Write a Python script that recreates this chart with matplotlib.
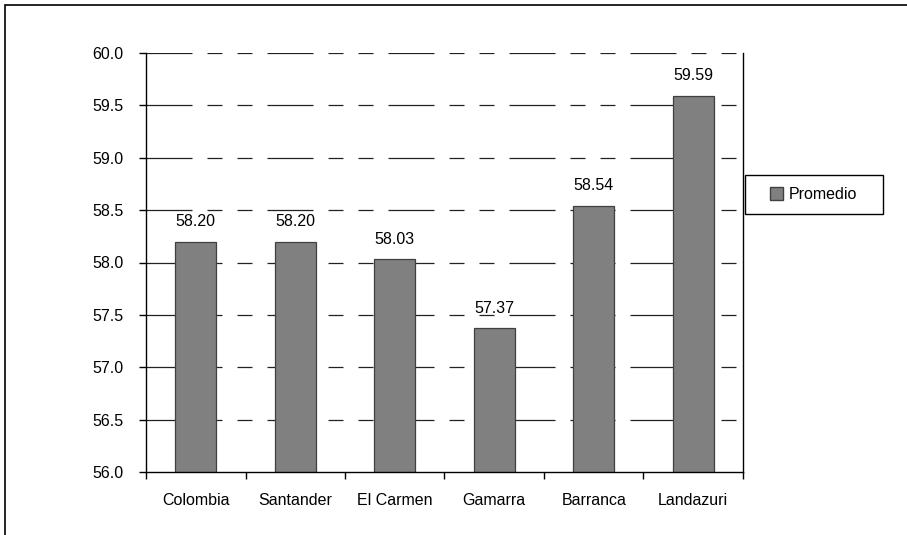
import matplotlib.pyplot as plt
from matplotlib.patches import Rectangle, Patch
import numpy as np

plt.rcParams['font.family'] = ['Liberation Sans', 'DejaVu Sans']
plt.rcParams['lines.scale_dashes'] = False

# Data
categories = ['Colombia', 'Santander', 'El Carmen', 'Gamarra', 'Barranca', 'Landazuri']
promedio = [58.20, 58.20, 58.03, 57.37, 58.54, 59.59]
y_ticks = [56.0, 56.5, 57.0, 57.5, 58.0, 58.5, 59.0, 59.5, 60.0]

W, H = 907, 535
fig = plt.figure(figsize=(W / 100, H / 100), dpi=100)
ax = fig.add_axes([146 / W, 1 - 472 / H, (743 - 146) / W, (472 - 53) / H])

# outer chart border (cut off at right and bottom)
fig.patches.append(Rectangle((5 / W, -0.1), 1.2, 1 - 5 / H + 0.1, transform=fig.transFigure,
                             fill=False, edgecolor='black', linewidth=1.2))

x = np.arange(len(categories))
ax.set_xlim(-0.5, len(categories) - 0.5)
ax.set_ylim(56.0, 60.0)

# dashed gridlines (long dash, dot, dot style) -- lengths in pixels
px = 0.72
dash = (0, (46 * px, 15 * px, 15 * px, 15 * px, 15 * px, 15 * px))
for yv in y_ticks[1:]:
    ax.axhline(yv, color='#222222', linewidth=0.9, linestyle=dash, zorder=1)

bars = ax.bar(x, promedio, width=0.41, bottom=0, color='#808080', edgecolor='#404040',
              linewidth=0.9, zorder=2)

for xi, v in zip(x, promedio):
    ax.annotate(f'{v:.2f}', (xi, v), xytext=(0, 9), textcoords='offset points',
                ha='center', va='bottom', fontsize=11.5)

ax.set_yticks(y_ticks)
ax.set_yticklabels([f'{t:.1f}' for t in y_ticks], fontsize=11.5)
ax.set_xticks(np.arange(len(categories) + 1) - 0.5, minor=False)
ax.set_xticklabels([''] * (len(categories) + 1))
ax.set_xticks(x, minor=True)
ax.set_xticklabels(categories, minor=True, fontsize=11.5)
ax.tick_params(axis='x', which='major', direction='out', length=5, width=1)
ax.tick_params(axis='x', which='minor', length=0, pad=15)
ax.tick_params(axis='y', direction='out', length=5, width=1, pad=11)

ax.spines['top'].set_visible(False)
for s in ['left', 'bottom', 'right']:
    ax.spines[s].set_linewidth(1)
    ax.spines[s].set_color('black')

# legend: content placed by matplotlib, frame drawn to the reference size
leg = fig.legend(handles=[Patch(facecolor='#808080', edgecolor='#404040', label='Promedio')],
                 loc='center left', bbox_to_anchor=(770 / W, 1 - 194.5 / H),
                 fontsize=11.5, frameon=False, handlelength=0.8, handleheight=0.8,
                 borderpad=0, handletextpad=0.4, borderaxespad=0)
fig.patches.append(Rectangle((745 / W, 1 - 214 / H), 138 / W, 39 / H,
                             transform=fig.transFigure, fill=False,
                             edgecolor='black', linewidth=1))

fig.savefig('out.png', dpi=100)
